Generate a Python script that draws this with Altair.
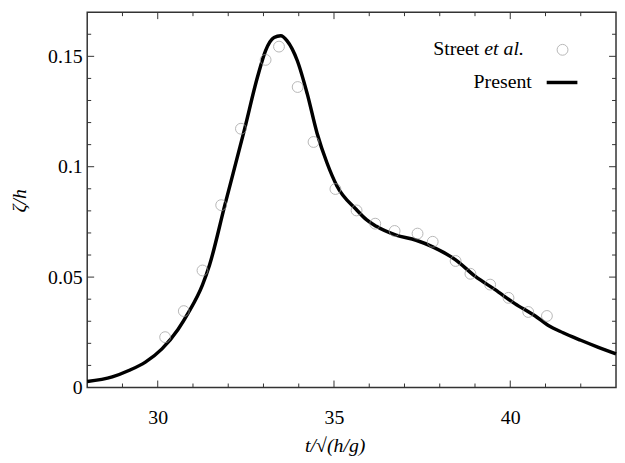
import altair as alt
import pandas as pd

# ---- data ----
t_curve = [28.0, 28.71, 29.18, 29.65, 30.12, 30.58, 30.87, 31.27, 31.47, 31.9, 32.46, 32.83,
           33.06, 33.3, 33.49, 33.67, 33.96, 34.24, 34.52, 34.8, 35.08, 35.64, 35.92, 36.2,
           36.76, 37.33, 37.8, 38.45, 39.01, 39.57, 40.13, 40.7, 41.07, 41.5, 42.0, 42.5, 43.0]
z_curve = [0.0027, 0.0048, 0.0077, 0.0115, 0.0175, 0.0264, 0.0339, 0.0465, 0.0555, 0.0824, 0.1168, 0.1406,
           0.1526, 0.1585, 0.1593, 0.1570, 0.1480, 0.1331, 0.1152, 0.1018, 0.0914, 0.0805, 0.0760, 0.0730,
           0.0690, 0.0667, 0.0637, 0.0578, 0.0503, 0.0443, 0.0380, 0.0325, 0.0282, 0.0248, 0.0214, 0.0182, 0.0152]

t_exp = [30.21, 30.74, 31.27, 31.80, 32.36, 33.06, 33.44, 33.97, 34.42, 35.04, 35.64,
         36.17, 36.72, 37.37, 37.80, 38.45, 38.87, 39.43, 39.95, 40.51, 41.04]
z_exp = [0.0228, 0.0346, 0.0530, 0.0826, 0.1172, 0.1484, 0.1544, 0.1361, 0.1112, 0.0899, 0.0802,
         0.0742, 0.0709, 0.0697, 0.0660, 0.0573, 0.0515, 0.0466, 0.0406, 0.0342, 0.0324]

x_labels = [30, 35, 40]
y_labels = [0, 0.05, 0.1, 0.15]
x_major = [30, 35, 40]
x_minor = [29, 31, 32, 33, 34, 36, 37, 38, 39, 41, 42]
y_major = [0.05, 0.10, 0.15]
y_minor = [0.01, 0.02, 0.03, 0.04, 0.06, 0.07, 0.08, 0.09, 0.11, 0.12, 0.13, 0.14, 0.16]

legend_street = ["Street"]
legend_etal = ["et al."]
legend_present = ["Present"]

# ---- layout / style ----
W, H = 534, 379
FONT = "Liberation Serif"
TICK_COLOR = "#333333"
xs = alt.Scale(domain=[28, 43], nice=False, zero=False)
ys = alt.Scale(domain=[0, 0.17], nice=False, zero=False)

curve_df = pd.DataFrame({"t": t_curve, "z": z_curve})
exp_df = pd.DataFrame({"t": t_exp, "z": z_exp})

x_axis = alt.Axis(
    values=x_labels, title="t/√(h/g)", domain=False, ticks=False, tickSize=0, grid=False,
    labelFont=FONT, labelFontSize=20, labelColor="black", labelPadding=20,
    titleFont=FONT, titleFontSize=20, titleFontStyle="italic", titleFontWeight="normal",
    titleColor="black", titleX=250, titleY=65, titleBaseline="alphabetic", titleAlign="center")
y_axis = alt.Axis(
    values=y_labels, format="~g", title="ζ/h", domain=False, ticks=False, tickSize=0, grid=False,
    labelFont=FONT, labelFontSize=20, labelColor="black", labelPadding=5,
    titleFont=FONT, titleFontSize=20, titleFontStyle="italic", titleFontWeight="normal",
    titleColor="black", titleX=-68, titleY=190, titleAngle=-90, titleBaseline="middle",
    titleAlign="center")

curve = alt.Chart(curve_df).mark_line(
    color="black", strokeWidth=3.5, interpolate="monotone"
).encode(
    x=alt.X("t:Q", scale=xs, axis=x_axis),
    y=alt.Y("z:Q", scale=ys, axis=y_axis),
)

points = alt.Chart(exp_df).mark_point(
    shape="circle", size=120, filled=False, color="#9a9a9a", strokeWidth=1
).encode(
    x=alt.X("t:Q", scale=xs, axis=x_axis),
    y=alt.Y("z:Q", scale=ys, axis=y_axis),
)


def xticks(vals, length):
    df = pd.DataFrame({"t": vals})
    bottom = alt.Chart(df).mark_rule(color=TICK_COLOR, strokeWidth=1).encode(
        x=alt.X("t:Q", scale=xs, axis=x_axis), y=alt.value(H), y2=alt.value(H - length))
    top = alt.Chart(df).mark_rule(color=TICK_COLOR, strokeWidth=1).encode(
        x=alt.X("t:Q", scale=xs, axis=x_axis), y=alt.value(0), y2=alt.value(length))
    return [bottom, top]


def yticks(vals, length):
    df = pd.DataFrame({"z": vals})
    left = alt.Chart(df).mark_rule(color=TICK_COLOR, strokeWidth=1).encode(
        y=alt.Y("z:Q", scale=ys, axis=y_axis), x=alt.value(0), x2=alt.value(length))
    right = alt.Chart(df).mark_rule(color=TICK_COLOR, strokeWidth=1).encode(
        y=alt.Y("z:Q", scale=ys, axis=y_axis), x=alt.value(W), x2=alt.value(W - length))
    return [left, right]


tick_layers = xticks(x_major, 7) + xticks(x_minor, 4) + yticks(y_major, 7) + yticks(y_minor, 4)

# ---- legend (drawn manually: label left of symbol) ----
one = pd.DataFrame({"k": [0]})
leg_street = alt.Chart(pd.DataFrame({"label": legend_street})).mark_text(
    align="right", baseline="alphabetic", font=FONT, fontSize=20, color="black"
).encode(x=alt.value(396), y=alt.value(43), text="label:N")
leg_etal = alt.Chart(pd.DataFrame({"label": legend_etal})).mark_text(
    align="left", baseline="alphabetic", font=FONT, fontSize=20, fontStyle="italic", color="black"
).encode(x=alt.value(401), y=alt.value(43), text="label:N")
leg_circle = alt.Chart(one).mark_point(
    shape="circle", size=120, filled=False, color="#9a9a9a", strokeWidth=1
).encode(x=alt.value(480), y=alt.value(38))
leg_present = alt.Chart(pd.DataFrame({"label": legend_present})).mark_text(
    align="right", baseline="alphabetic", font=FONT, fontSize=20, color="black"
).encode(x=alt.value(449), y=alt.value(77), text="label:N")
leg_line = alt.Chart(one).mark_rule(color="black", strokeWidth=3.5).encode(
    x=alt.value(464), x2=alt.value(495), y=alt.value(71))

chart = alt.layer(
    curve, points, *tick_layers, leg_street, leg_etal, leg_circle, leg_present, leg_line
).properties(
    width=W, height=H,
    autosize=alt.AutoSizeParams(type="none"),
    padding={"left": 80, "top": 2, "right": 1, "bottom": 70},
    background="white",
).configure_view(
    stroke="#333333", strokeWidth=1.5
).configure_axis(
    labelFont=FONT, titleFont=FONT, labelFontSize=20, labelColor="black"
)

chart.save("out.html", embed_options={"renderer": "svg", "actions": False})
